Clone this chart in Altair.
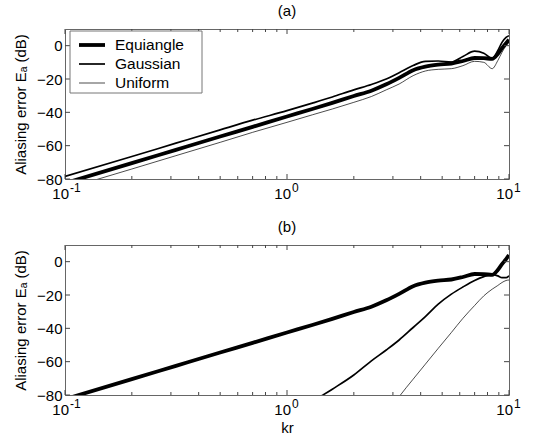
import altair as alt
import pandas as pd

FONT = "Liberation Sans"
W, H = 444, 150

# ---- data ----
KR = [0.1, 0.2, 0.316, 0.5, 0.7, 1.0, 1.3, 1.6, 2.0, 2.4, 2.8, 3.2, 3.7,
      4.2, 4.8, 5.5, 6.2, 7.0, 7.7, 8.4, 8.9, 9.3, 9.7, 10.0]

A_EQUIANGLE = [-82.5, -70.5, -62.5, -54.5, -48.7, -42.5, -38.0, -34.3, -30.2, -27.0, -23.2, -19.3,
               -14.7, -12.6, -11.4, -10.7, -9.2, -7.4, -7.5, -7.9, -5.0, -1.5, 1.5, 3.5]
A_GAUSSIAN = [-78.5, -66.5, -58.5, -50.5, -44.7, -39.0, -34.5, -30.8, -26.5, -23.3, -20.0, -16.2,
              -11.9, -9.4, -9.2, -9.8, -6.5, -3.3, -4.5, -7.7, -3.0, 2.0, 5.0, 6.0]
A_UNIFORM = [-86.0, -74.0, -66.0, -58.0, -52.0, -46.0, -41.5, -38.0, -34.0, -30.5, -26.5, -23.0,
             -18.0, -15.2, -14.2, -13.8, -12.0, -9.4, -10.0, -13.8, -9.0, -4.0, 0.0, 2.0]

B_EQUIANGLE = [-82.5, -70.5, -62.5, -54.5, -48.7, -42.5, -38.0, -34.3, -30.2, -27.0, -23.2, -19.3,
               -14.7, -12.6, -11.4, -10.7, -9.2, -7.4, -7.5, -7.9, -5.0, -1.5, 1.5, 4.0]
B_GAUSSIAN = [None, None, None, None, None, -95.0, -84.0, -76.5, -68.0, -59.5, -53.0, -47.0,
              -39.5, -33.0, -25.5, -19.5, -15.2, -11.3, -9.0, -7.8, -8.5, -9.6, -9.6, -8.5]
B_UNIFORM = [None, None, None, None, None, None, None, None, None, None, -92.0, -81.0,
             -70.5, -61.5, -52.0, -42.5, -34.0, -26.3, -20.5, -16.5, -14.3, -12.5, -11.3, -11.0]

SERIES = ["Equiangle", "Gaussian", "Uniform"]
WIDTHS = [3.8, 1.7, 0.7]

MAJOR_X = [0.1, 1.0, 10.0]
MINOR_X = [0.2, 0.3, 0.4, 0.5, 0.6, 0.7, 0.8, 0.9, 2, 3, 4, 5, 6, 7, 8, 9]
Y_TICKS = [-80, -60, -40, -20, 0]
X_LABEL_BASE = ["10", "10", "10"]
X_LABEL_EXP = ["-1", "0", "1"]


def long_df(cols):
    rows = []
    for name, vals in zip(SERIES, cols):
        for k, v in zip(KR, vals):
            if v is not None:
                rows.append({"kr": k, "db": v, "series": name})
    return pd.DataFrame(rows)


xscale = alt.Scale(type="log", domain=[0.1, 10], nice=False)
yscale = alt.Scale(domain=[-80, 10], nice=False, zero=False)
TICK = "#444444"


def panel(df, title, legend, xtitle):
    if xtitle:
        xaxis = alt.Axis(labels=False, ticks=False, tickSize=0, domain=False, grid=False,
                         title=xtitle, titleFont=FONT, titleFontSize=15,
                         titleFontWeight="normal", titleColor="black", titlePadding=25)
    else:
        xaxis = None
    yaxis = alt.Axis(
        values=Y_TICKS, ticks=False, tickSize=0, domain=False, grid=False,
        labelFont=FONT, labelFontSize=15, labelColor="black", labelPadding=3,
        labelOverlap=False, labelBound=False, labelFlush=False,
        title="Aliasing error Eₐ  (dB)", titleFont=FONT, titleFontSize=15,
        titleFontWeight="normal", titleColor="black", titlePadding=8)
    X = lambda: alt.X("kr:Q", scale=xscale, axis=xaxis)
    Y = lambda: alt.Y("db:Q", scale=yscale, axis=yaxis)
    layers = []
    for name, sw in zip(SERIES, WIDTHS):
        layers.append(
            alt.Chart(df).transform_filter(alt.datum.series == name)
            .mark_line(clip=True, color="black", strokeWidth=sw, interpolate="monotone")
            .encode(x=X(), y=Y()))
    maj = pd.DataFrame({"kr": MAJOR_X})
    mnr = pd.DataFrame({"kr": MINOR_X})
    yt = pd.DataFrame({"db": Y_TICKS})
    for d, ln in ((maj, 5), (mnr, 3)):
        for y0, y1 in ((H, H - ln), (0, ln)):
            layers.append(alt.Chart(d).mark_rule(color=TICK, strokeWidth=1).encode(
                x=X(), y=alt.value(y0), y2=alt.value(y1)))
    for x0, x1 in ((0, 5), (W, W - 5)):
        layers.append(alt.Chart(yt).mark_rule(color=TICK, strokeWidth=1).encode(
            y=Y(), x=alt.value(x0), x2=alt.value(x1)))
    lab = pd.DataFrame({"kr": MAJOR_X, "base": X_LABEL_BASE, "exp": X_LABEL_EXP})
    layers.append(alt.Chart(lab).mark_text(align="right", baseline="alphabetic", dx=4,
                                           font=FONT, fontSize=15, color="black").encode(
        x=X(), y=alt.value(H + 20), text="base:N"))
    layers.append(alt.Chart(lab).mark_text(align="left", baseline="alphabetic", dx=5,
                                           font=FONT, fontSize=12, color="black").encode(
        x=X(), y=alt.value(H + 13), text="exp:N"))
    if legend:
        box = pd.DataFrame({"series": ["box"]})
        layers.append(alt.Chart(box).mark_rect(fill="white", stroke="#777777", strokeWidth=1).encode(
            x=alt.value(5), x2=alt.value(137), y=alt.value(2), y2=alt.value(64)))
        leg = pd.DataFrame({"series": SERIES})
        for i, (name, sw) in enumerate(zip(SERIES, WIDTHS)):
            yy = 16 + 19 * i
            sub = alt.Chart(leg).transform_filter(alt.datum.series == name)
            layers.append(sub.mark_rule(color="black", strokeWidth=sw).encode(
                x=alt.value(14), x2=alt.value(40), y=alt.value(yy)))
            layers.append(sub.mark_text(align="left", baseline="middle", font=FONT,
                                        fontSize=15.5, color="black").encode(
                x=alt.value(50), y=alt.value(yy), text="series:N"))
    return alt.layer(*layers).properties(
        width=W, height=H,
        title=alt.TitleParams(title, font=FONT, fontSize=15, fontWeight="normal",
                              color="black", anchor="middle", offset=10))


top = panel(long_df([A_EQUIANGLE, A_GAUSSIAN, A_UNIFORM]), "(a)", True, None)
bottom = panel(long_df([B_EQUIANGLE, B_GAUSSIAN, B_UNIFORM]), "(b)", False, "kr")

chart = alt.vconcat(top, bottom, spacing=66, bounds="flush").properties(
    padding={"left": 13, "top": 3, "right": 5, "bottom": 3}, background="white"
).configure_view(stroke="#666666", strokeWidth=1)

chart.save("out.html", embed_options={"renderer": "svg", "actions": False})
